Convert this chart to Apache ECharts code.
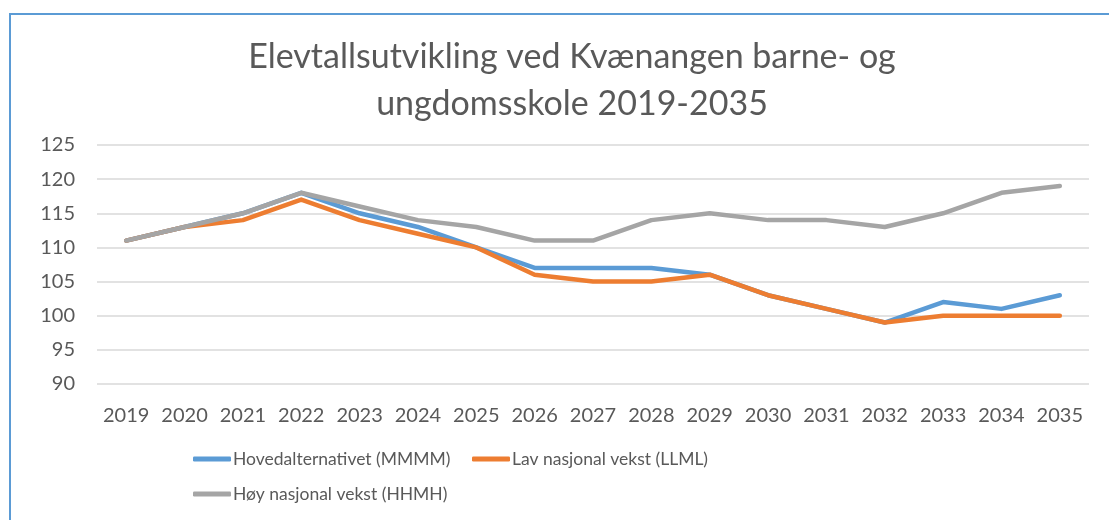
<!DOCTYPE html>
<html>
<head>
<meta charset="utf-8">
<script src="https://cdn.jsdelivr.net/npm/echarts@6/dist/echarts.min.js"></script>
<style>
html,body{margin:0;padding:0;background:#fff;}
#chart{width:1109px;height:520px;}
</style>
</head>
<body>
<div id="chart"></div>
<script>
const years = ['2019','2020','2021','2022','2023','2024','2025','2026','2027','2028','2029','2030','2031','2032','2033','2034','2035'];
const hoved = [111,113,115,118,115,113,110,107,107,107,106,103,101,99,102,101,103];
const lav   = [111,113,114,117,114,112,110,106,105,105,106,103,101,99,100,100,100];
const hoy   = [111,113,115,118,116,114,113,111,111,114,115,114,114,113,115,118,119];
const seriesNames = ['Hovedalternativet (MMMM)','Lav nasjonal vekst (LLML)','Høy nasjonal vekst (HHMH)'];
const titleText = 'Elevtallsutvikling ved Kvænangen barne- og\nungdomsskole 2019-2035';

const FONT = 'Lato';
const TXT = '#595959';
const colors = ['#5b9bd5','#ed7d31','#a5a5a5'];

const chart = echarts.init(document.getElementById('chart'), null, {renderer:'canvas'});
const legendBase = {
  icon: 'roundRect', itemWidth: 38, itemHeight: 5, orient: 'horizontal', padding: 0,
  textStyle: {fontFamily: FONT, fontSize: 17.5, color: TXT, padding: [0,0,0,-3]},
  selectedMode: false
};
function mkSeries(name, data, color){
  return {
    name, type: 'line', data, symbol: 'none', smooth: false,
    lineStyle: {width: 4.5, color, cap: 'round', join: 'round'},
    itemStyle: {color}
  };
}
chart.setOption({
  animation: false,
  color: colors,
  title: {
    text: titleText, left: 567, top: 29, textAlign: 'center',
    textStyle: {fontFamily: FONT, fontSize: 34, fontWeight: 'normal', color: TXT, lineHeight: 47}
  },
  graphic: [{
    type: 'rect', shape: {x: 10, y: 14, width: 1300, height: 700},
    style: {fill: 'none', stroke: '#5b9bd5', lineWidth: 2}, silent: true
  }],
  legend: [
    Object.assign({}, legendBase, {data: [seriesNames[0]], left: 193, top: 450}),
    Object.assign({}, legendBase, {data: [seriesNames[1]], left: 472, top: 450}),
    Object.assign({}, legendBase, {data: [seriesNames[2]], left: 193, top: 485})
  ],
  grid: {left: 97, right: 20, top: 145, bottom: 136, containLabel: false},
  xAxis: {
    type: 'category', data: years, boundaryGap: true,
    axisLine: {show: false}, axisTick: {show: false},
    axisLabel: {fontFamily: FONT, fontSize: 20, color: TXT, margin: 22, interval: 0}
  },
  yAxis: {
    type: 'value', min: 90, max: 125, interval: 5,
    axisLine: {show: false}, axisTick: {show: false},
    splitLine: {lineStyle: {color: '#d9d9d9', width: 1.5}},
    axisLabel: {fontFamily: FONT, fontSize: 20, color: TXT, margin: 22}
  },
  series: [
    mkSeries(seriesNames[0], hoved, colors[0]),
    mkSeries(seriesNames[1], lav, colors[1]),
    mkSeries(seriesNames[2], hoy, colors[2])
  ]
});
</script>
</body>
</html>
